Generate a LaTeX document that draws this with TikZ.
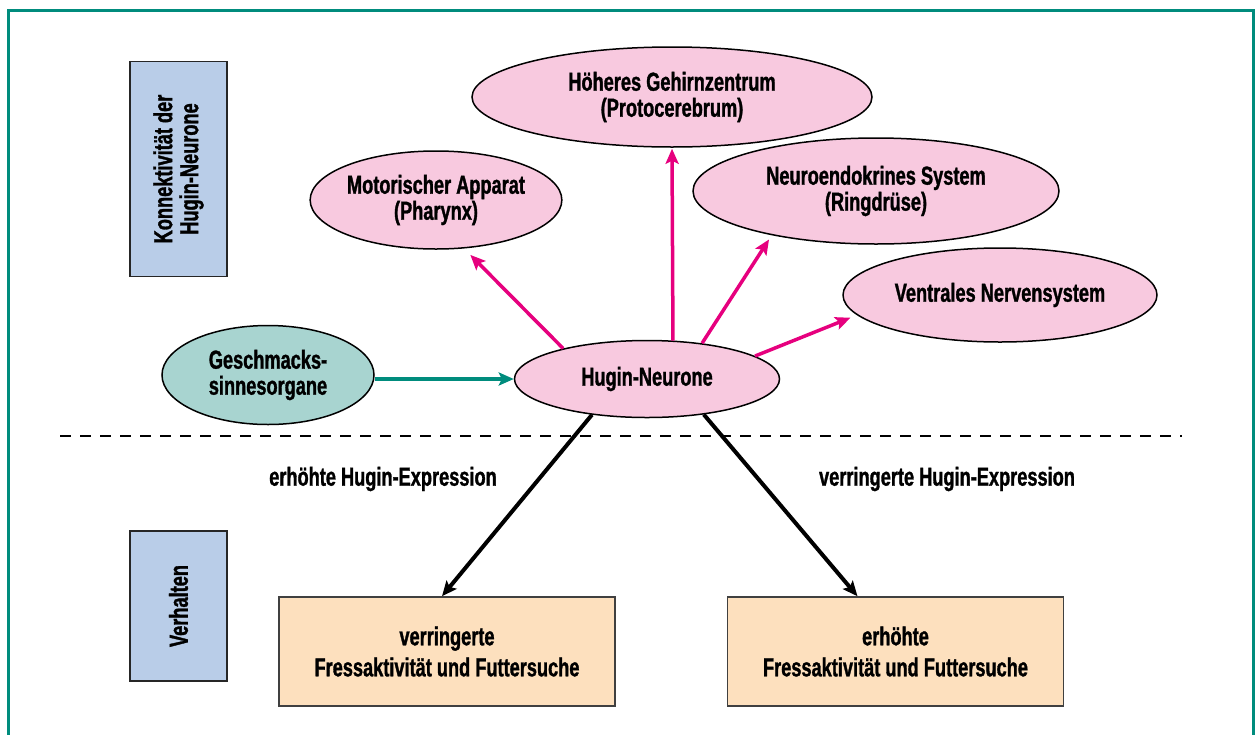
\documentclass[tikz,border=0pt]{standalone}
\usepackage{fontspec}
\setmainfont[FakeStretch=0.70, BoldFeatures={FakeBold=1.2}]{Liberation Sans}
\usetikzlibrary{arrows.meta,shapes.geometric}
\definecolor{pinkfill}{RGB}{248,201,223}
\definecolor{tealfill}{RGB}{168,212,208}
\definecolor{magentaline}{RGB}{230,0,126}
\definecolor{tealline}{RGB}{0,140,125}
\definecolor{bluefill}{RGB}{185,205,232}
\definecolor{peachfill}{RGB}{253,224,190}
\tikzset{
  txt/.style={font=\bfseries\fontsize{26}{26}\selectfont, align=center},
  oval/.style={ellipse, draw=black, line width=1.5pt, fill=pinkfill, inner sep=0pt, txt},
  sidebox/.style={draw=black!85, line width=1.5pt, fill=bluefill, inner sep=0pt, minimum width=97pt},
  behbox/.style={draw=black!75, line width=1.5pt, fill=peachfill, inner sep=0pt, minimum width=336pt, minimum height=109pt, font=\bfseries\fontsize{26}{31}\selectfont, align=center},
  tip/.style={-{Stealth[length=15pt,width=13pt,inset=3pt]}},
  pinkarrow/.style={tip, draw=magentaline, line width=3.5pt},
  blackarrow/.style={tip, draw=black, line width=4pt},
  tealarrow/.style={tip, draw=tealline, line width=3.5pt},
}
\begin{document}
\begin{tikzpicture}[x=1pt,y=-1pt]
\useasboundingbox (0,0) rectangle (1257,734);
% frame
\draw[tealline, line width=3pt] (8,750) -- (8,10) -- (1253,10) -- (1253,750);
% side boxes
\node[sidebox, minimum height=215pt] (konn) at (178.5,169) {};
\node[txt, rotate=90] (konntxt) at (konn.center) {Konnektivität der\\Hugin-Neurone};
\node[sidebox, minimum height=150pt] (verh) at (178.5,606) {};
\node[txt, rotate=90] (verhtxt) at (verh.center) {Verhalten};
% ellipses
\node[oval, minimum width=400pt, minimum height=100pt] (hoeh) at (672,97) {Höheres Gehirnzentrum\\(Protocerebrum)};
\node[oval, minimum width=248pt, minimum height=98pt] (motor) at (436,200) {Motorischer Apparat\\(Pharynx)};
\node[oval, minimum width=366pt, minimum height=106pt] (neuro) at (876,191) {Neuroendokrines System\\(Ringdrüse)};
\node[oval, minimum width=314pt, minimum height=94pt] (ventral) at (1000,295) {Ventrales Nervensystem};
\node[oval, fill=tealfill, minimum width=212pt, minimum height=99pt] (gesch) at (268,375) {Geschmacks-\\sinnesorgane};
\node[oval, minimum width=265pt, minimum height=77pt] (hugin) at (647,379) {Hugin-Neurone};
% dashed separator
\coordinate (dl) at (60,436);
\coordinate (dr) at (1182,436);
\draw[line width=1.5pt, dash pattern=on 11pt off 9pt] (dl) -- (dr);
% labels
\node[txt] (lab1) at (383,479) {erhöhte Hugin-Expression};
\node[txt] (lab2) at (947,479) {verringerte Hugin-Expression};
% behaviour boxes
\node[behbox] (verr) at (447,651.5) {verringerte\\Fressaktivität und Futtersuche};
\node[behbox] (erh) at (895.5,651.5) {erhöhte\\Fressaktivität und Futtersuche};
% arrows
\draw[tealarrow] (gesch.east |- hugin.west) -- (hugin.west);
\draw[pinkarrow, shorten >=9pt] (hugin.160) -- (motor.-60);
\draw[pinkarrow, shorten >=1pt] (hugin.56) -- (hoeh.south);
\draw[pinkarrow, shorten >=5pt] (hugin.33) -- (neuro.203.5);
\draw[pinkarrow, shorten >=7pt] (hugin.12) -- (ventral.188.5);
\draw[blackarrow] (hugin.213.7) -- ([xshift=-5pt]verr.north);
\draw[blackarrow] (hugin.-32) -- ([xshift=-38pt]erh.north);
\end{tikzpicture}
\end{document}
